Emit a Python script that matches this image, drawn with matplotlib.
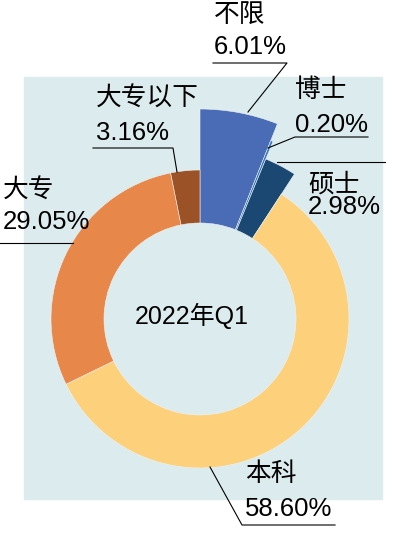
import matplotlib
matplotlib.use('Agg')
import matplotlib.pyplot as plt
from matplotlib.patches import Rectangle

plt.rcParams['font.family'] = ['Liberation Sans', 'Noto Sans CJK SC', 'DejaVu Sans']

# 数据
labels = ['不限', '博士', '硕士', '本科', '大专', '大专以下']
values = [6.01, 0.20, 2.98, 58.60, 29.05, 3.16]
pct_text = ['6.01%', '0.20%', '2.98%', '58.60%', '29.05%', '3.16%']
colors = ['#4a6bb6', '#3a79b8', '#1b4873', '#fdd07b', '#e8874a', '#9a5226']
outer_r = [210, 192, 173, 149, 149, 149]   # 像素
inner_r = 96
center_label = '2022年Q1'

W, H = 399, 543
fig = plt.figure(figsize=(W / 100, H / 100), dpi=100)
ax = fig.add_axes([0, 0, 1, 1])

def Y(y):  # 图像坐标(自上而下) -> 数据坐标
    return H - y

cx, cy = 200, Y(319)

ax.add_patch(Rectangle((24, Y(499)), 382 - 24, 499 - 77, color='#dcebee', zorder=0))

wedges, _ = ax.pie(values, colors=colors, startangle=90, counterclock=False,
                   center=(cx, cy), radius=149,
                   wedgeprops=dict(linewidth=0.4, edgecolor='#eef4f4'))
for w, r in zip(wedges, outer_r):
    w.set_radius(r)
    w.set_width(r - inner_r)
    w.set_zorder(2)

ax.text(cx - 8, Y(316), center_label, ha='center', va='center', fontsize=18, zorder=3)

fs = 18.5
# 标签: (名称位置, 百分比位置, 引线折线)
ann = {
    '不限': ((214, 15), (214, 47), [(213, 63), (287, 63), (248, 112)]),
    '博士': ((295, 90), (295, 125), [(368, 137), (295, 137), (268, 148)]),
    '硕士': ((308, 185), (308, 207), [(385, 162), (277, 162)]),
    '本科': ((245, 474), (245, 509), [(335, 525), (242, 525), (210, 467)]),
    '大专': ((3, 190), (3, 222), [(0, 243), (73, 243)]),
    '大专以下': ((96, 98), (96, 133), [(93, 148), (173, 148), (177, 172)]),
}
for name, pct in zip(labels, pct_text):
    (nx, ny), (px, py), line = ann[name]
    ax.text(nx, Y(ny), name, ha='left', va='center', fontsize=fs, zorder=4)
    ax.text(px, Y(py), pct, ha='left', va='center', fontsize=fs, zorder=4)
    ax.plot([p[0] for p in line], [Y(p[1]) for p in line], color='black', lw=0.8, zorder=4)

ax.set_xlim(0, W)
ax.set_ylim(0, H)
ax.set_aspect('auto')
ax.axis('off')

fig.savefig('out.png', dpi=100)
